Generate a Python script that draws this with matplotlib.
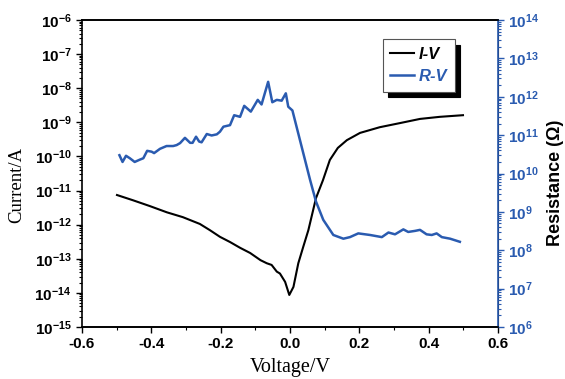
import math

import matplotlib
matplotlib.use("Agg")
import matplotlib.pyplot as plt
from matplotlib.ticker import FuncFormatter, LogLocator, MultipleLocator, NullFormatter

# I-V curve (black, left axis)
iv_voltage = [-0.499, -0.453, -0.404, -0.355, -0.309, -0.260, -0.231, -0.202, -0.173, -0.144,
              -0.115, -0.085, -0.067, -0.053, -0.038, -0.029, -0.014, -0.002, 0.01, 0.024,
              0.038, 0.053, 0.075, 0.095, 0.115, 0.138, 0.164, 0.202, 0.259, 0.317,
              0.375, 0.432, 0.499]
iv_current = [7.4e-12, 5.2e-12, 3.5e-12, 2.3e-12, 1.66e-12, 1.05e-12, 6.9e-13, 4.4e-13, 3.1e-13, 2.1e-13,
              1.48e-13, 9.1e-14, 7.4e-14, 6.6e-14, 4.2e-14, 3.7e-14, 2.1e-14, 8.7e-15, 1.5e-14, 7.4e-14,
              2.2e-13, 6.9e-13, 6.0e-12, 2.0e-11, 7.9e-11, 1.78e-10, 3.0e-10, 4.9e-10, 7.2e-10, 9.5e-10,
              1.26e-9, 1.45e-9, 1.62e-9]

# R-V curve (blue, right axis)
rv_voltage = [-0.492, -0.483, -0.473, -0.462, -0.448, -0.433, -0.423, -0.412, -0.399, -0.392,
              -0.375, -0.356, -0.337, -0.327, -0.317, -0.303, -0.288, -0.281, -0.271, -0.262,
              -0.255, -0.240, -0.226, -0.211, -0.202, -0.192, -0.173, -0.161, -0.144, -0.132,
              -0.113, -0.093, -0.082, -0.063, -0.051, -0.038, -0.024, -0.012, -0.005, 0.007,
              0.058, 0.075, 0.096, 0.125, 0.154, 0.173, 0.197, 0.231, 0.265, 0.284,
              0.303, 0.327, 0.341, 0.361, 0.375, 0.394, 0.409, 0.423, 0.438, 0.462, 0.490]
rv_resistance = [3.0e10, 2.0e10, 2.9e10, 2.5e10, 2.0e10, 2.3e10, 2.5e10, 3.9e10, 3.7e10, 3.4e10,
                 4.4e10, 5.2e10, 5.2e10, 5.5e10, 6.2e10, 8.5e10, 6.3e10, 6.3e10, 9.1e10, 6.8e10,
                 6.5e10, 1.07e11, 9.8e10, 1.05e11, 1.23e11, 1.66e11, 1.82e11, 3.3e11, 3.0e11, 5.8e11,
                 4.1e11, 8.3e11, 6.3e11, 2.45e12, 7.2e11, 8.3e11, 7.9e11, 1.23e12, 5.5e11, 4.4e11,
                 6.8e9, 1.86e9, 6.2e8, 2.5e8, 2.0e8, 2.2e8, 2.75e8, 2.5e8, 2.2e8, 2.9e8,
                 2.6e8, 3.5e8, 3.0e8, 3.2e8, 3.4e8, 2.6e8, 2.5e8, 2.75e8, 2.2e8, 2.0e8, 1.66e8]

blue = "#2a5bb0"

plt.rcParams["font.family"] = "Liberation Sans"
plt.rcParams["mathtext.fontset"] = "custom"
plt.rcParams["mathtext.rm"] = "Liberation Sans:bold"
plt.rcParams["mathtext.bf"] = "Liberation Sans:bold"
plt.rcParams["mathtext.it"] = "Liberation Sans:bold"
plt.rcParams["mathtext.default"] = "bf"


def power_label(y, _pos=None):
    if y <= 0:
        return ""
    return r"$10^{%d}$" % int(round(math.log10(y)))


fig = plt.figure(figsize=(5.65, 3.79), dpi=100)
ax = fig.add_axes([0.1451, 0.1372, 0.7363, 0.81])
ax2 = ax.twinx()

l1, = ax.plot(iv_voltage, iv_current, color="black", lw=1.5, label="I-V")
l2, = ax2.plot(rv_voltage, rv_resistance, color=blue, lw=1.8, label="R-V")

ax.set_xlim(-0.6, 0.6)
ax.set_yscale("log")
ax.set_ylim(1e-15, 1e-6)
ax2.set_yscale("log")
ax2.set_ylim(1e6, 1e14)

ax.xaxis.set_major_locator(MultipleLocator(0.2))
ax.xaxis.set_minor_locator(MultipleLocator(0.1))
ax.xaxis.set_major_formatter(FuncFormatter(lambda x, p: f"{x:.1f}"))

for a in (ax, ax2):
    a.yaxis.set_major_locator(LogLocator(base=10, numticks=20))
    a.yaxis.set_minor_locator(LogLocator(base=10, subs=range(2, 10), numticks=20))
    a.yaxis.set_minor_formatter(NullFormatter())
    a.yaxis.set_major_formatter(FuncFormatter(power_label))

ax.tick_params(axis="both", which="major", direction="out", length=4, width=1,
               labelsize=11, colors="black")
ax.tick_params(axis="both", which="minor", direction="out", length=2, width=0.8)
for lab in ax.get_xticklabels():
    lab.set_fontweight("bold")

ax2.tick_params(axis="y", which="major", direction="out", length=4, width=1,
                labelsize=11, colors=blue)
ax2.tick_params(axis="y", which="minor", direction="out", length=2, width=0.8, colors=blue)

for s in ("left", "bottom", "top"):
    ax.spines[s].set_linewidth(1.2)
ax2.spines["right"].set_color(blue)
ax2.spines["right"].set_linewidth(1.2)
ax2.spines["left"].set_visible(False)
ax2.spines["top"].set_linewidth(1.2)
ax2.spines["bottom"].set_linewidth(1.2)

ax.set_xlabel("Voltage/V", family="Liberation Serif", fontsize=14.5)
ax.xaxis.set_label_coords(0.5, -0.102)
ax.set_ylabel("Current/A", family="Liberation Serif", fontsize=13.5)
ax.yaxis.set_label_coords(-0.137, 0.463)
ax2.set_ylabel("Resistance (\u03a9)", fontsize=13, fontweight="bold", color="black")
ax2.yaxis.set_label_coords(1.118, 0.469)

leg = ax2.legend(handles=[l1, l2], loc="upper left", bbox_to_anchor=(0.723, 0.938),
                 borderaxespad=0, fancybox=False, edgecolor="#555555",
                 handlelength=1.4, handletextpad=0.3, borderpad=0.45, labelspacing=0.45,
                 shadow={"ox": 4, "oy": -4, "color": "black", "alpha": 1},
                 prop={"weight": "bold", "style": "italic", "size": 12})
leg.get_frame().set_linewidth(0.8)
leg.get_texts()[1].set_color(blue)

fig.savefig("out.png", dpi=100)
